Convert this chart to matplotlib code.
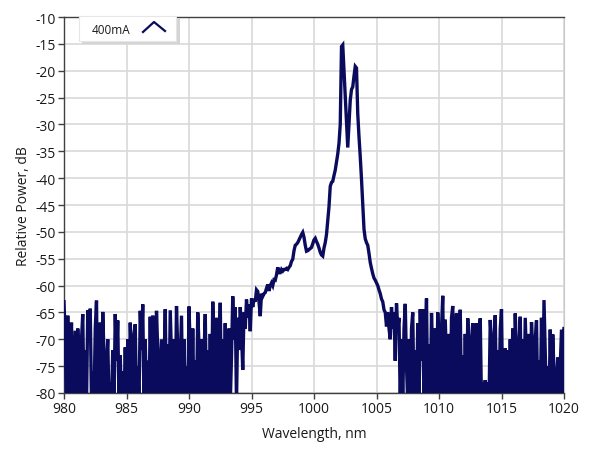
import numpy as np
import matplotlib
matplotlib.use("Agg")
import matplotlib.pyplot as plt
from matplotlib.patches import Rectangle
from matplotlib.lines import Line2D

plt.rcParams['font.family'] = ['Open Sans', 'DejaVu Sans']
plt.rcParams['axes.unicode_minus'] = False

# Spectrum samples every 0.1 nm from 980.0 to 1020.0 nm (values in dB, < -80 = below floor)
wl_start, wl_stop = 980.0, 1020.0
power_db = [
    # 980
    -63, -70, -82, -65.6, -82, -72, -66.9, -82, -75, -68.4,
    # 981
    -82, -68, -74, -82, -70, -65.3, -82, -72, -82, -64.6,
    # 982
    -70, -64.3, -82, -76, -82, -68, -62.8, -82, -72, -66.9,
    # 983
    -82, -64.9, -73, -82, -75, -70, -82, -78, -82, -72,
    # 984
    -82, -65.3, -74, -66.5, -82, -73, -82, -76, -82, -71.5,
    # 985
    -82, -70, -82, -66.9, -74, -82, -69, -67.2, -82, -75,
    # 986
    -82, -64.7, -72, -63.5, -82, -70, -82, -74, -82, -65.8,
    # 987
    -82, -65.6, -73, -82, -64.7, -72, -82, -76, -70, -82,
    # 988
    -75, -64.4, -82, -71, -82, -64.6, -73, -82, -70, -82,
    # 989
    -63.8, -72, -82, -74, -65.6, -82, -70, -82, -75, -82,
    # 990
    -63.9, -72, -82, -68, -82, -74, -82, -65, -71, -82,
    # 991
    -70, -82, -73, -65.3, -82, -72, -82, -69, -82, -63,
    # 992
    -71, -82, -66, -82, -74, -63.2, -82, -70, -82, -67,
    # 993
    -82, -80, -68, -82, -73.2, -62, -70, -64, -82, -66,
    # 994
    -72, -64, -69, -75.7, -65, -68, -62.6, -66, -63.5, -68.5,
    # 995
    -62.4, -64, -62.5, -63, -60.8, -61.1, -63, -65.7, -61.5, -62,
    # 996
    -61.5, -61.3, -60.5, -59.8, -61, -60, -59.5, -60, -58.9, -59,
    # 997
    -58, -56.6, -57.6, -57.6, -57, -57.3, -57, -57, -56.8, -57,
    # 998
    -56.6, -56.3, -55.5, -55.1, -53.5, -52.5, -52.3, -52, -51.5, -51,
    # 999
    -50.5, -50.1, -51, -52.5, -53.6, -53.5, -53.3, -53.1, -52.9, -52.2,
    # 1000
    -51.5, -51.2, -51.8, -52.3, -53, -53.8, -54.3, -54.5, -53, -52,
    # 1001
    -50.5, -48, -45.3, -41.5, -40.8, -40.6, -39.5, -38.5, -37, -35.5,
    # 1002
    -33.5, -30, -15.5, -15.2, -20, -25, -30, -34.3, -30, -25.5,
    # 1003
    -23.5, -23, -21, -19.2, -19.5, -28, -32.3, -36, -40.2, -45,
    # 1004
    -49.5, -51.3, -52, -52.5, -54, -55.7, -56.8, -57.8, -58.6, -59,
    # 1005
    -59.5, -60, -60.8, -61.5, -62.5, -63, -64.5, -65, -67.6, -65,
    # 1006
    -68, -70, -64, -68, -65, -74, -63.3, -68, -66, -82,
    # 1007
    -70, -82, -68, -63.4, -75, -82, -70, -82, -68, -65,
    # 1008
    -82, -72, -82, -67, -82, -64.4, -74, -64.4, -82, -70,
    # 1009
    -62.4, -82, -71, -82, -65.1, -73, -82, -68, -82, -65,
    # 1010
    -72, -82, -68, -61.9, -82, -66.3, -74, -82, -69, -82,
    # 1011
    -66, -63.8, -82, -72, -65.2, -82, -70, -64.5, -82, -73,
    # 1012
    -82, -69, -82, -66.1, -72, -82, -70, -67, -82, -73,
    # 1013
    -67, -82, -70, -66.1, -82, -78, -80, -77.6, -82, -78,
    # 1014
    -82, -66.4, -71, -82, -70, -65.5, -82, -72, -82, -68,
    # 1015
    -64.4, -82, -74, -71.7, -82, -72, -82, -70, -82, -68,
    # 1016
    -82, -65.2, -73, -82, -71, -65.8, -82, -70, -82, -66,
    # 1017
    -74, -82, -69, -82, -66.8, -72, -82, -70, -66.5, -82,
    # 1018
    -74, -82, -66, -82, -62.7, -72, -82, -75, -82, -68.2,
    # 1019
    -82, -69.1, -76, -82, -78, -73.4, -82, -75, -68.2, -82,
    # 1020
    -68,
]
wavelength = np.linspace(wl_start, wl_stop, len(power_db))

x_ticks = [980, 985, 990, 995, 1000, 1005, 1010, 1015, 1020]
y_ticks = [-80, -75, -70, -65, -60, -55, -50, -45, -40, -35, -30, -25, -20, -15, -10]
series_label = "400mA"

W, H = 589, 456
fig = plt.figure(figsize=(W / 100, H / 100), dpi=100)
ax = fig.add_axes([64 / W, 1 - 394 / H, 500 / W, 376 / H])

line_color = '#0b0b5e'
ax.plot(wavelength, power_db, color=line_color, lw=2.4, solid_joinstyle='miter', zorder=3)

ax.set_xlim(980, 1020)
ax.set_ylim(-80, -10)
ax.set_xticks(x_ticks)
ax.set_yticks(y_ticks)
ax.set_xticklabels([str(v) for v in x_ticks])
ax.set_yticklabels([str(v) for v in y_ticks])
ax.grid(True, color='#d9d9d9', lw=1.2, zorder=0)
ax.set_axisbelow(True)
ax.tick_params(axis='both', direction='out', length=4, width=1, color='#404040',
               labelsize=10, labelcolor='#1a1a1a', pad=2)
for side in ['left', 'bottom', 'top']:
    ax.spines[side].set_color('#404040')
    ax.spines[side].set_linewidth(1.0)
ax.spines['right'].set_color('#c8c8c8')

ax.set_xlabel("Wavelength, nm", fontsize=10, color='#1a1a1a', labelpad=7)
ax.set_ylabel("Relative Power, dB", fontsize=10, color='#1a1a1a', labelpad=3)

# Legend box drawn in figure pixel space
def px(x, y):
    return (x / W, 1 - y / H)

shadow = Rectangle(px(82, 45), 98 / W, 26 / H, transform=fig.transFigure,
                   facecolor='#d4d4d4', edgecolor='none', zorder=5)
box = Rectangle(px(79, 42), 97 / W, 25 / H, transform=fig.transFigure,
                facecolor='white', edgecolor='#e6e6e6', lw=0.8, zorder=6)
fig.patches.extend([shadow, box])
fig.text(92 / W, 1 - 30 / H, series_label, fontsize=8.5, va='center', ha='left',
         color='#1a1a1a', zorder=7)
chev_x = [143 / W, 154 / W, 165 / W]
chev_y = [1 - 33 / H, 1 - 23 / H, 1 - 32 / H]
fig.lines.append(Line2D(chev_x, chev_y, transform=fig.transFigure, color=line_color,
                        lw=1.6, zorder=7))

fig.savefig("out.png", dpi=100)
